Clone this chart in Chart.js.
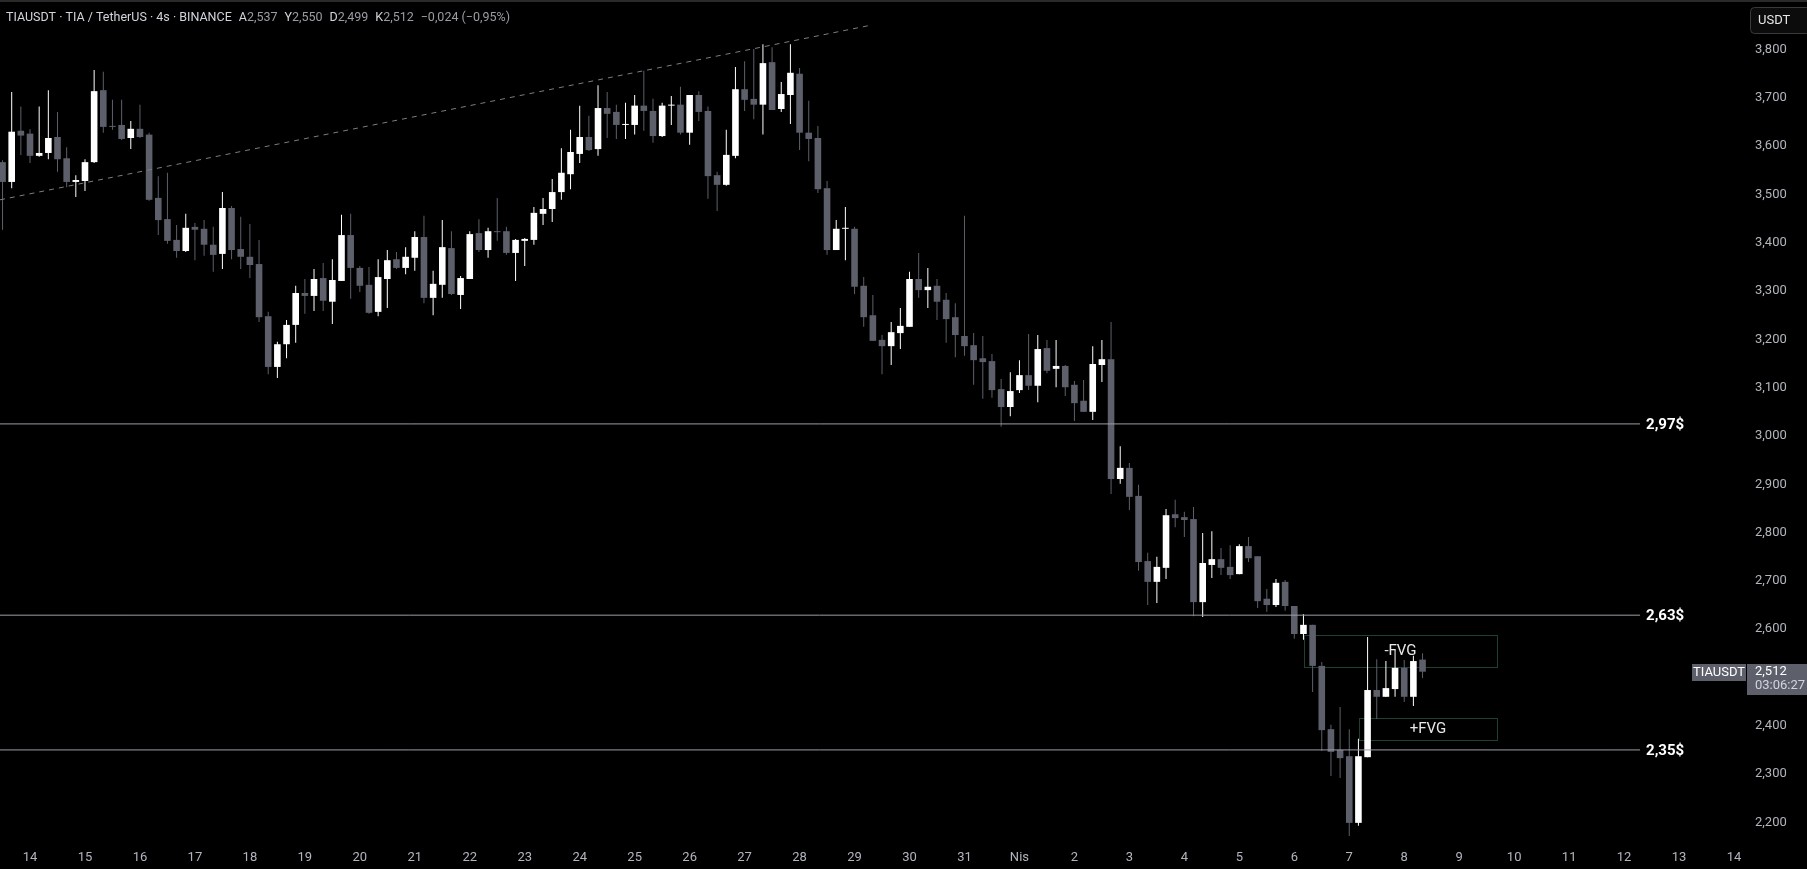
<!DOCTYPE html>
<html>
<head>
<meta charset="utf-8">
<script src="https://cdn.jsdelivr.net/npm/chart.js@4.4.1/dist/chart.umd.min.js"></script>
<style>
  html, body { margin: 0; padding: 0; background: #000; }
  #wrap { width: 1807px; height: 869px; position: relative; }
</style>
</head>
<body>
<div id="wrap"><canvas id="tiaChart" width="1807" height="869"></canvas></div>
<script>
// 4h candles, x in days (14 = 14 Mart, 32 = 1 Nisan)
const candleStart = 13.5;
const candleStep = 1 / 6;

const opens = [3.567,3.526,3.632,3.626,3.580,3.586,3.619,3.575,3.526,3.528,
  3.567,3.716,3.642,3.644,3.617,3.636,3.624,3.493,3.449,3.406,
  3.383,3.433,3.429,3.396,3.377,3.472,3.387,3.371,3.356,3.248,
  3.143,3.190,3.230,3.296,3.290,3.327,3.278,3.321,3.416,3.348,
  3.313,3.257,3.325,3.366,3.348,3.369,3.412,3.286,3.313,3.389,
  3.292,3.325,3.420,3.385,3.424,3.424,3.379,3.404,3.406,3.460,
  3.470,3.505,3.542,3.584,3.619,3.594,3.679,3.671,3.644,3.644,
  3.684,3.673,3.621,3.684,3.686,3.628,3.706,3.673,3.540,3.520,
  3.580,3.718,3.698,3.686,3.774,3.677,3.706,3.750,3.628,3.617,
  3.513,3.385,3.429,3.429,3.311,3.250,3.199,3.186,3.213,3.226,
  3.325,3.302,3.311,3.282,3.246,3.207,3.188,3.161,3.155,3.097,
  3.060,3.095,3.126,3.104,3.182,3.139,3.145,3.106,3.073,3.050,
  3.147,3.159,2.911,2.934,2.876,2.741,2.698,2.727,2.838,2.832,
  2.828,2.656,2.733,2.745,2.729,2.714,2.772,2.751,2.663,2.650,
  2.698,2.648,2.590,2.609,2.524,2.393,2.350,2.337,2.199,2.335,
  2.474,2.460,2.476,2.520,2.460,2.537];
const highs = [3.571,3.712,3.682,3.635,3.682,3.716,3.671,3.598,3.540,3.573,
  3.758,3.754,3.696,3.696,3.652,3.686,3.628,3.538,3.545,3.437,
  3.460,3.441,3.447,3.433,3.505,3.476,3.454,3.439,3.406,3.257,
  3.195,3.240,3.311,3.325,3.346,3.358,3.366,3.458,3.460,3.352,
  3.350,3.366,3.385,3.381,3.391,3.424,3.456,3.342,3.447,3.424,
  3.331,3.424,3.449,3.431,3.493,3.433,3.408,3.410,3.474,3.493,
  3.532,3.596,3.634,3.684,3.663,3.726,3.712,3.686,3.690,3.706,
  3.756,3.698,3.690,3.704,3.723,3.706,3.714,3.682,3.547,3.634,
  3.764,3.776,3.801,3.811,3.805,3.733,3.811,3.762,3.694,3.642,
  3.528,3.447,3.474,3.433,3.329,3.292,3.209,3.236,3.265,3.340,
  3.379,3.348,3.325,3.296,3.275,3.456,3.213,3.207,3.170,3.118,
  3.132,3.157,3.211,3.209,3.199,3.199,3.147,3.114,3.116,3.186,
  3.199,3.236,2.979,2.944,2.899,2.758,2.750,2.849,2.868,2.843,
  2.853,2.799,2.803,2.768,2.774,2.776,2.791,2.751,2.683,2.704,
  2.702,2.648,2.631,2.609,2.532,2.402,2.439,2.393,2.373,2.584,
  2.538,2.534,2.557,2.536,2.545,2.550];
const lows = [3.427,3.513,3.582,3.565,3.578,3.573,3.547,3.515,3.495,3.507,
  3.565,3.628,3.634,3.613,3.594,3.617,3.487,3.416,3.398,3.369,
  3.381,3.364,3.373,3.340,3.346,3.366,3.346,3.327,3.236,3.128,
  3.120,3.161,3.193,3.253,3.259,3.259,3.232,3.321,3.284,3.298,
  3.253,3.248,3.265,3.346,3.335,3.342,3.275,3.250,3.286,3.292,
  3.263,3.325,3.381,3.369,3.404,3.375,3.321,3.352,3.396,3.437,
  3.443,3.489,3.511,3.565,3.590,3.580,3.617,3.615,3.615,3.624,
  3.632,3.607,3.619,3.644,3.624,3.603,3.652,3.491,3.466,3.518,
  3.575,3.673,3.656,3.624,3.675,3.671,3.646,3.592,3.569,3.503,
  3.375,3.385,3.364,3.294,3.226,3.197,3.128,3.147,3.180,3.226,
  3.286,3.265,3.240,3.193,3.163,3.166,3.106,3.077,3.079,3.019,
  3.041,3.089,3.095,3.070,3.130,3.101,3.083,3.031,3.050,3.033,
  3.112,2.880,2.901,2.847,2.721,2.650,2.654,2.704,2.811,2.791,
  2.627,2.625,2.706,2.712,2.704,2.714,2.739,2.644,2.636,2.646,
  2.638,2.580,2.578,2.470,2.348,2.296,2.292,2.155,2.193,2.335,
  2.414,2.460,2.460,2.449,2.441,2.499];
const closes = [3.526,3.630,3.622,3.580,3.586,3.617,3.573,3.526,3.530,3.567,
  3.714,3.640,3.640,3.615,3.636,3.619,3.489,3.447,3.404,3.383,
  3.431,3.427,3.396,3.375,3.472,3.385,3.371,3.354,3.246,3.143,
  3.190,3.230,3.296,3.290,3.325,3.280,3.323,3.416,3.348,3.311,
  3.255,3.329,3.364,3.348,3.371,3.412,3.286,3.315,3.391,3.294,
  3.327,3.418,3.385,3.424,3.422,3.379,3.406,3.408,3.462,3.470,
  3.505,3.545,3.588,3.619,3.592,3.679,3.667,3.644,3.646,3.684,
  3.673,3.621,3.684,3.686,3.628,3.706,3.671,3.538,3.520,3.582,
  3.718,3.696,3.686,3.772,3.675,3.708,3.752,3.628,3.615,3.511,
  3.385,3.429,3.431,3.309,3.246,3.197,3.186,3.215,3.228,3.325,
  3.302,3.309,3.278,3.242,3.209,3.186,3.157,3.153,3.095,3.060,
  3.093,3.126,3.104,3.180,3.135,3.145,3.101,3.068,3.050,3.149,
  3.159,2.911,2.934,2.874,2.739,2.698,2.729,2.836,2.830,2.826,
  2.656,2.737,2.745,2.727,2.712,2.772,2.747,2.658,2.650,2.696,
  2.648,2.590,2.609,2.524,2.391,2.346,2.333,2.199,2.337,2.474,
  2.460,2.478,2.520,2.460,2.534,2.512];

// drawings
const levelPrices = [3.025, 2.629, 2.350];
const levelLabels = ['2,97$', '2,63$', '2,35$'];
const levelEnd = 43.29;
const trendTimes = [13.454, 29.318];
const trendPrices = [3.489, 3.851];
const fvgNames = ['-FVG', '+FVG'];
const fvgStart = [37.176, 38.177];
const fvgEnd = [40.687, 40.687];
const fvgTop = [2.588, 2.416];
const fvgBottom = [2.522, 2.371];

const UP = '#ffffff';
const DOWN = '#5d606b';
const FONT = 'Roboto, "Noto Sans", sans-serif';

const times = opens.map((o, i) => candleStart + i * candleStep);
const colors = opens.map((o, i) => closes[i] >= o ? UP : DOWN);

const fmt = v => v.toFixed(3).replace('.', ',');

const overlay = {
  id: 'overlay',
  beforeDatasetsDraw(chart) {
    const {ctx, scales: {x, y}} = chart;
    ctx.save();
    ctx.strokeStyle = '#1d4033';
    ctx.lineWidth = 1;
    fvgNames.forEach((n, i) => {
      const x0 = Math.round(x.getPixelForValue(fvgStart[i])) + 0.5;
      const x1 = Math.round(x.getPixelForValue(fvgEnd[i])) + 0.5;
      const y0 = Math.round(y.getPixelForValue(fvgTop[i])) + 0.5;
      const y1 = Math.round(y.getPixelForValue(fvgBottom[i])) + 0.5;
      ctx.strokeRect(x0, y0, x1 - x0, y1 - y0);
    });
    ctx.restore();
  },
  afterDatasetsDraw(chart) {
    const {ctx, scales: {x, y}} = chart;
    ctx.save();
    ctx.textBaseline = 'middle';
    // FVG labels
    ctx.fillStyle = '#e8e8e8';
    ctx.font = '15px ' + FONT;
    ctx.textAlign = 'center';
    fvgNames.forEach((n, i) => {
      const cx = (x.getPixelForValue(fvgStart[i]) + x.getPixelForValue(fvgEnd[i])) / 2;
      const cy = (y.getPixelForValue(fvgTop[i]) + y.getPixelForValue(fvgBottom[i])) / 2;
      ctx.fillText(n, cx, cy);
    });
    // level labels
    ctx.fillStyle = '#ffffff';
    ctx.font = 'bold 15px ' + FONT;
    ctx.textAlign = 'left';
    levelPrices.forEach((p, i) => {
      ctx.fillText(levelLabels[i], x.getPixelForValue(levelEnd) + 6, y.getPixelForValue(p) + 1);
    });
    ctx.restore();
  },
  afterDraw(chart) {
    const {ctx, scales: {y}} = chart;
    const W = chart.width;
    ctx.save();
    // top border
    ctx.fillStyle = '#2a2a2a';
    ctx.fillRect(0, 0, W, 2);
    // header
    ctx.textBaseline = 'middle';
    ctx.textAlign = 'left';
    ctx.font = '12.5px ' + FONT;
    const parts = [
      ['TIAUSDT · TIA / TetherUS · 4s · BINANCE', '#d1d4dc', 7],
      ['A', '#d1d4dc', 0], ['2,537', '#9a9ca3', 7],
      ['Y', '#d1d4dc', 0], ['2,550', '#9a9ca3', 7],
      ['D', '#d1d4dc', 0], ['2,499', '#9a9ca3', 7],
      ['K', '#d1d4dc', 0], ['2,512', '#9a9ca3', 7],
      ['−0,024 (−0,95%)', '#9a9ca3', 0]
    ];
    let hx = 6;
    parts.forEach(([t, c, gap]) => {
      ctx.fillStyle = c;
      ctx.fillText(t, hx, 18);
      hx += ctx.measureText(t).width + gap;
    });
    // USDT currency box
    ctx.fillStyle = '#0c0c0c';
    ctx.strokeStyle = '#3a3a3a';
    ctx.lineWidth = 1;
    ctx.beginPath();
    ctx.roundRect(1750.5, 7.5, 60, 26, 4);
    ctx.fill();
    ctx.stroke();
    ctx.fillStyle = '#e6e6e6';
    ctx.font = '13px ' + FONT;
    ctx.fillText('USDT', 1758, 21);
    // last price label
    const last = closes[closes.length - 1];
    const py = Math.round(y.getPixelForValue(last));
    ctx.fillStyle = DOWN;
    ctx.fillRect(1692, py - 8, 54, 17);
    ctx.fillRect(1747, py - 8, 60, 31);
    ctx.fillStyle = '#ffffff';
    ctx.textAlign = 'center';
    ctx.fillText('TIAUSDT', 1719, py + 1);
    ctx.textAlign = 'left';
    ctx.fillText(fmt(last), 1755, py);
    ctx.fillStyle = '#d1d4dc';
    ctx.fillText('03:06:27', 1755, py + 14);
    ctx.restore();
  }
};

const lineSet = (xs, ys, color, dash) => ({
  type: 'line',
  data: xs.map((v, i) => ({x: v, y: ys[i]})),
  borderColor: color,
  borderWidth: 1,
  borderDash: dash,
  pointRadius: 0,
  order: 0
});

const datasets = [
  {
    label: 'wick',
    data: times.map((t, i) => ({x: t, y: [lows[i], highs[i]]})),
    backgroundColor: colors,
    maxBarThickness: 1,
    grouped: false,
    order: 2
  },
  {
    label: 'body',
    data: times.map((t, i) => ({x: t, y: [opens[i], closes[i]]})),
    backgroundColor: colors,
    maxBarThickness: 7,
    minBarLength: 1,
    grouped: false,
    order: 1
  },
  lineSet(trendTimes, trendPrices, '#7b7e87', [5, 5])
];
levelPrices.forEach(p => datasets.push(lineSet([13.3, levelEnd], [p, p], '#9c9ea6', [])));

// no label overhang padding, so the plot fills the pane edge to edge
const noPad = s => { s.paddingTop = 0; s.paddingBottom = 0; s.paddingLeft = 0; s.paddingRight = 0; };

const ctx = document.getElementById('tiaChart').getContext('2d');
const tiaChart = new Chart(ctx, {
  type: 'bar',
  data: { datasets },
  options: {
    responsive: false,
    animation: false,
    devicePixelRatio: 1,
    layout: { padding: 0, autoPadding: false },
    plugins: { legend: { display: false }, tooltip: { enabled: false } },
    scales: {
      x: {
        type: 'linear',
        offset: false,
        min: 13.454,
        max: 45.254,
        grid: { display: false, drawTicks: false },
        border: { display: false },
        ticks: {
          stepSize: 1,
          autoSkip: false,
          maxRotation: 0,
          includeBounds: false,
          padding: 14,
          color: '#b2b5be',
          font: { family: FONT, size: 13 },
          callback: v => v <= 31 ? String(v) : (v === 32 ? 'Nis' : String(v - 31))
        },
        afterFit: s => { s.height = 33; noPad(s); }
      },
      y: {
        position: 'right',
        min: 2.1718,
        max: 3.9027,
        grid: { display: false, drawTicks: false },
        border: { display: false },
        ticks: {
          stepSize: 0.1,
          includeBounds: false,
          padding: 7,
          color: '#b2b5be',
          font: { family: FONT, size: 13 },
          callback: v => fmt(v)
        },
        afterBuildTicks: s => { s.ticks = s.ticks.filter(t => t.value > 2.15 && t.value < 3.85); },
        afterFit: s => { s.width = 59; noPad(s); }
      }
    }
  },
  plugins: [overlay]
});
</script>
</body>
</html>
